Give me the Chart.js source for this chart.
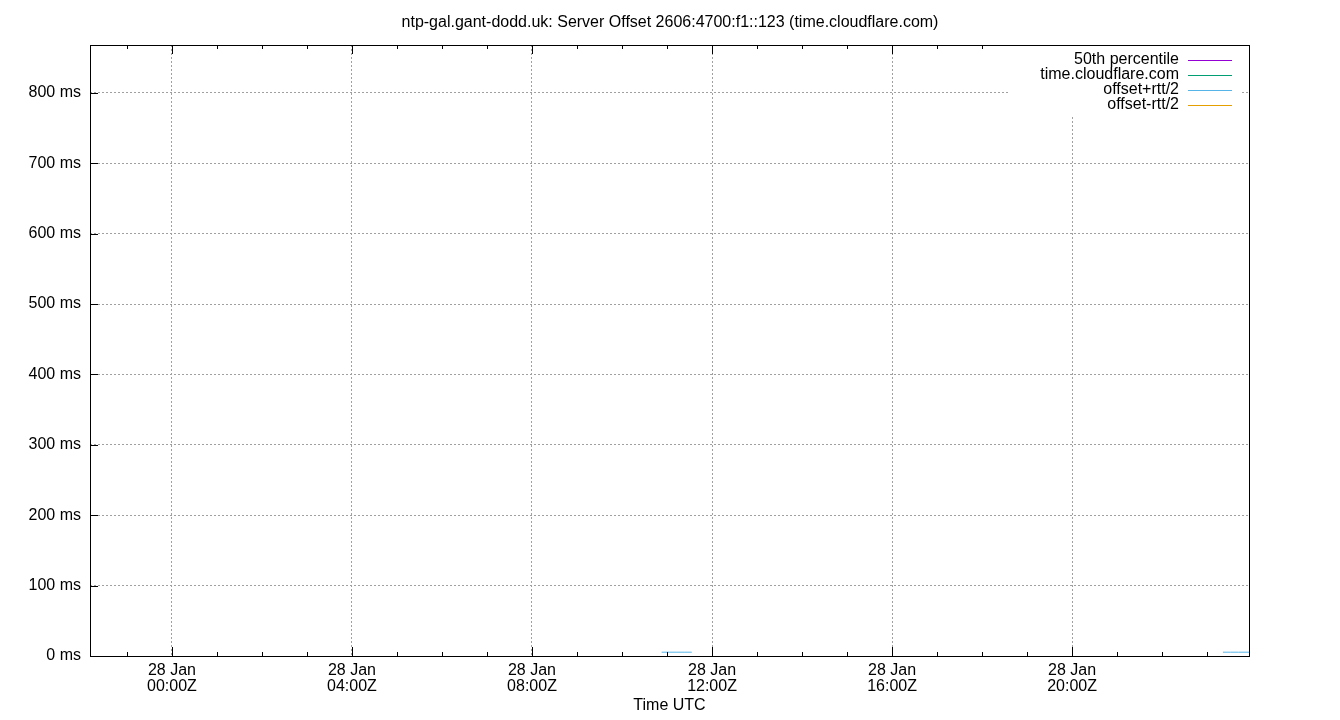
<!DOCTYPE html>
<html>
<head>
<meta charset="utf-8">
<title>Server Offset</title>
<script src="https://cdn.jsdelivr.net/npm/chart.js@4/dist/chart.umd.min.js"></script>
<style>
  html, body { margin: 0; padding: 0; background: #fff; }
  #wrap { width: 1340px; height: 720px; }
</style>
</head>
<body>
<div id="wrap"><canvas id="chart" width="1340" height="720"></canvas></div>
<script>
// ==== Data (hours relative to 28 Jan 00:00Z, values in ms) ====
const sampleHours = [10.88, 11.05, 11.22, 11.38, 11.55, null, 23.35, 23.52, 23.7, 23.93];
const offsetMs = [-1.0, -1.0, -1.0, -1.0, -1.0, null, -1.0, -1.0, -1.0, -1.0];
const percentile50Ms = [-1.0, -1.0, -1.0, -1.0, -1.0, null, -1.0, -1.0, -1.0, -1.0];
const offsetPlusRttMs = [5.4, 5.4, 5.4, 5.4, 5.4, null, 5.4, 5.4, 5.4, 5.4];
const offsetMinusRttMs = [-7.4, -7.4, -7.4, -7.4, -7.4, null, -7.4, -7.4, -7.4, -7.4];

const tickHours = [0, 4, 8, 12, 16, 20];
const tickLabels = [
  ["28 Jan", "00:00Z"],
  ["28 Jan", "04:00Z"],
  ["28 Jan", "08:00Z"],
  ["28 Jan", "12:00Z"],
  ["28 Jan", "16:00Z"],
  ["28 Jan", "20:00Z"]
];
const xMin = -1.82;
const xMax = 23.93;
const yMax = 868;

const FONT = "'Liberation Sans', Arial, sans-serif";

// ==== Helpers ====
const points = (vals) =>
  sampleHours.map((h, i) => (h === null ? { x: NaN, y: null } : { x: h, y: vals[i] }));

const line = (label, vals, color) => ({
  label,
  data: points(vals),
  borderColor: color,
  backgroundColor: color,
  borderWidth: 1,
  pointRadius: 0,
  spanGaps: false,
  tension: 0,
  clip: 0
});

// ==== gnuplot-ish frame, inward ticks and opaque key ====
const framePlugin = {
  id: "frame",
  afterDatasetsDraw(chart) {
    const { ctx, chartArea: a, scales } = chart;
    const xs = scales.x, ys = scales.y;
    ctx.save();
    ctx.strokeStyle = "#000";
    ctx.lineWidth = 1;
    ctx.setLineDash([]);

    // minor ticks every hour, major ticks every 4 hours (top and bottom)
    ctx.beginPath();
    for (let h = Math.ceil(xMin); h <= xMax; h++) {
      const px = Math.round(xs.getPixelForValue(h)) + 0.5;
      const len = tickHours.includes(h) ? 9 : 4;
      ctx.moveTo(px, a.bottom);
      ctx.lineTo(px, a.bottom - len);
      ctx.moveTo(px, a.top);
      ctx.lineTo(px, a.top + len);
    }
    // y ticks on the left only
    for (const t of ys.ticks) {
      const py = Math.round(ys.getPixelForValue(t.value)) + 0.5;
      ctx.moveTo(a.left, py);
      ctx.lineTo(a.left + 8, py);
    }
    ctx.stroke();

    // key box
    ctx.font = "16px " + FONT;
    const sets = chart.data.datasets;
    const textRight = a.right - 70;
    const widest = Math.max(...sets.map((d) => ctx.measureText(d.label).width));
    const rowTop = a.top + 15;
    const boxLeft = Math.round(textRight - widest - 32);
    ctx.fillStyle = "#fff";
    ctx.fillRect(boxLeft, a.top + 1, a.right - 8 - boxLeft, rowTop + 15 * (sets.length - 1) + 10 - a.top);

    ctx.textAlign = "right";
    ctx.textBaseline = "middle";
    sets.forEach((d, i) => {
      const y = rowTop + 15 * i;
      ctx.fillStyle = "#000";
      ctx.fillText(d.label, textRight, y);
      ctx.fillStyle = d.borderColor;
      ctx.fillRect(a.right - 61, Math.round(y), 44, 1);
    });

    // border
    ctx.strokeStyle = "#000";
    ctx.strokeRect(Math.round(a.left) + 0.5, Math.round(a.top) + 0.5,
      Math.round(a.right - a.left), Math.round(a.bottom - a.top));
    ctx.restore();
  }
};

// ==== Chart ====
new Chart(document.getElementById("chart"), {
  type: "line",
  data: {
    datasets: [
      line("50th percentile", percentile50Ms, "#9400d3"),
      line("time.cloudflare.com", offsetMs, "#009e73"),
      line("offset+rtt/2", offsetPlusRttMs, "#56b4e9"),
      line("offset-rtt/2", offsetMinusRttMs, "#e69f00")
    ]
  },
  options: {
    responsive: false,
    animation: false,
    plugins: {
      legend: { display: false },
      tooltip: { enabled: false },
      title: {
        display: true,
        text: "ntp-gal.gant-dodd.uk: Server Offset 2606:4700:f1::123 (time.cloudflare.com)",
        color: "#000",
        font: { family: FONT, size: 16, weight: "normal", lineHeight: 1.2 },
        padding: { top: 13.4, bottom: 12.4 }
      }
    },
    scales: {
      x: {
        type: "linear",
        min: xMin,
        max: xMax,
        afterBuildTicks: (s) => { s.ticks = tickHours.map((v) => ({ value: v })); },
        afterFit: (s) => { s.height = 64; },
        ticks: {
          color: "#000",
          autoSkip: false,
          maxRotation: 0,
          padding: 7,
          font: { family: FONT, size: 16, lineHeight: 1.0 },
          callback: (v) => tickLabels[tickHours.indexOf(v)] || ""
        },
        grid: { color: "#a0a0a0", drawTicks: false, tickLength: 0 },
        border: { display: false, dash: [2, 2] },
        title: {
          display: true,
          text: "Time UTC",
          color: "#000",
          font: { family: FONT, size: 16, lineHeight: 1.2 },
          padding: { top: 0, bottom: 4.4 }
        }
      },
      y: {
        min: 0,
        max: yMax,
        afterFit: (s) => { s.width = 90; },
        ticks: {
          stepSize: 100,
          includeBounds: false,
          color: "#000",
          padding: 9,
          font: { family: FONT, size: 16 },
          callback: (v) => v + " ms"
        },
        grid: { color: "#a0a0a0", drawTicks: false, tickLength: 0 },
        border: { display: false, dash: [2, 2] }
      },
      // empty right margin so the title centres on the page
      yRight: {
        position: "right",
        min: 0,
        max: yMax,
        afterFit: (s) => { s.width = 91; },
        ticks: { display: false },
        grid: { display: false },
        border: { display: false }
      }
    }
  },
  plugins: [framePlugin]
});
</script>
</body>
</html>
